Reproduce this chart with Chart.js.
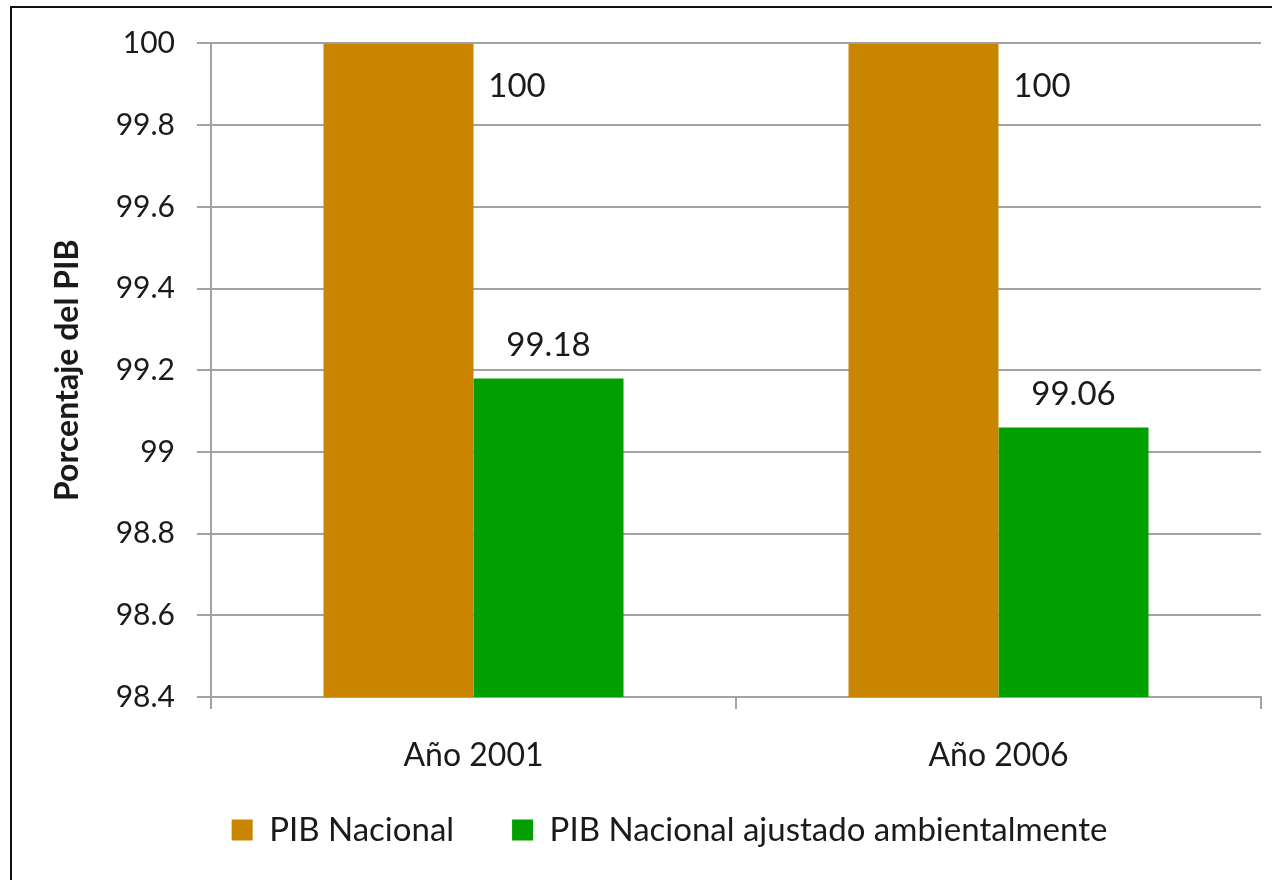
<!DOCTYPE html>
<html>
<head>
<meta charset="utf-8">
<title>PIB Nacional</title>
<script src="https://cdn.jsdelivr.net/npm/chart.js@4.4.0/dist/chart.umd.min.js"></script>
<style>
    html, body { margin: 0; padding: 0; background: #fff; overflow: hidden; }
    #wrap { position: relative; width: 1272px; height: 880px; }
    #frame {
        position: absolute; left: 10px; top: 6px; width: 1300px; height: 900px;
        border-left: 2px solid #111; border-top: 2px solid #111; pointer-events: none;
    }
</style>
</head>
<body>
<div id="wrap">
    <canvas id="chart-pib" width="1272" height="880"></canvas>
    <div id="frame"></div>
</div>
<script>
var categories = ['Año 2001', 'Año 2006'];
var seriesNames = ['PIB Nacional', 'PIB Nacional ajustado ambientalmente'];
var pibNacional = [100, 100];
var pibAjustado = [99.18, 99.06];
var yTicks = [98.4, 98.6, 98.8, 99, 99.2, 99.4, 99.6, 99.8, 100];

var colors = {
    orange: '#c98500',
    green: '#00a000',
    grid: '#a3a3a3',
    text: '#1a1a1a'
};
var fontFamily = 'Lato, "Open Sans", sans-serif';

// value labels over the bars (the clipped 100 bars get theirs beside the bar, like Excel)
var valueLabels = {
    id: 'valueLabels',
    afterDatasetsDraw: function(chart) {
        var ctx = chart.ctx;
        ctx.save();
        ctx.font = '33px ' + fontFamily;
        ctx.fillStyle = colors.text;
        ctx.textAlign = 'center';
        ctx.textBaseline = 'middle';
        chart.data.datasets.forEach(function(ds, i) {
            chart.getDatasetMeta(i).data.forEach(function(bar, j) {
                var x = bar.x, y = bar.y - 33;
                if (y < chart.chartArea.top) {
                    x = bar.x + bar.width * 0.79;
                    y = bar.y + 43;
                }
                ctx.fillText(String(ds.data[j]), x, y);
            });
        });
        ctx.restore();
    }
};

// legend sits right of the canvas centre and a bit higher in the original
var legendShift = {
    id: 'legendShift',
    afterLayout: function(chart) {
        var lg = chart.legend;
        lg.left += 15;
        lg.right += 15;
        lg.top -= 26.5;
        lg.bottom -= 26.5;
    }
};

var legendPad = 58;

var ctx = document.getElementById('chart-pib').getContext('2d');
var chart = new Chart(ctx, {
    type: 'bar',
    data: {
        labels: categories,
        datasets: [{
            label: seriesNames[0],
            data: pibNacional,
            backgroundColor: colors.orange,
            barPercentage: 1,
            categoryPercentage: 0.5714
        }, {
            label: seriesNames[1],
            data: pibAjustado,
            backgroundColor: colors.green,
            barPercentage: 1,
            categoryPercentage: 0.5714
        }]
    },
    options: {
        responsive: false,
        animation: false,
        layout: { padding: { left: 48, right: 11, top: 20, bottom: -3 } },
        plugins: {
            legend: {
                position: 'bottom',
                labels: {
                    boxWidth: 21,
                    boxHeight: 21,
                    padding: legendPad,
                    color: colors.text,
                    font: { size: 33, family: fontFamily }
                }
            },
            tooltip: { enabled: false }
        },
        scales: {
            x: {
                grid: { offset: true, drawOnChartArea: false, color: colors.grid, lineWidth: 2, tickLength: 12 },
                border: { color: colors.grid, width: 2 },
                ticks: { color: colors.text, padding: 27, font: { size: 32, family: fontFamily } },
                afterFit: function(scale) { scale.height = 85; }
            },
            y: {
                min: 98.4,
                max: 100,
                afterBuildTicks: function(axis) {
                    axis.ticks = yTicks.map(function(v) { return { value: v }; });
                },
                grid: { color: colors.grid, lineWidth: 2, tickLength: 14 },
                border: { color: colors.grid, width: 2 },
                ticks: {
                    color: colors.text,
                    padding: 22,
                    font: { size: 30, family: fontFamily, lineHeight: 1.43 },
                    callback: function(v) { return String(Math.round(v * 10) / 10); }
                },
                title: {
                    display: true,
                    text: 'Porcentaje del PIB',
                    color: colors.text,
                    padding: 0,
                    font: { size: 32, weight: 'bold', family: fontFamily }
                },
                afterFit: function(scale) { scale.width = 211 - 48; }
            }
        }
    },
    plugins: [valueLabels, legendShift]
});
</script>
</body>
</html>
